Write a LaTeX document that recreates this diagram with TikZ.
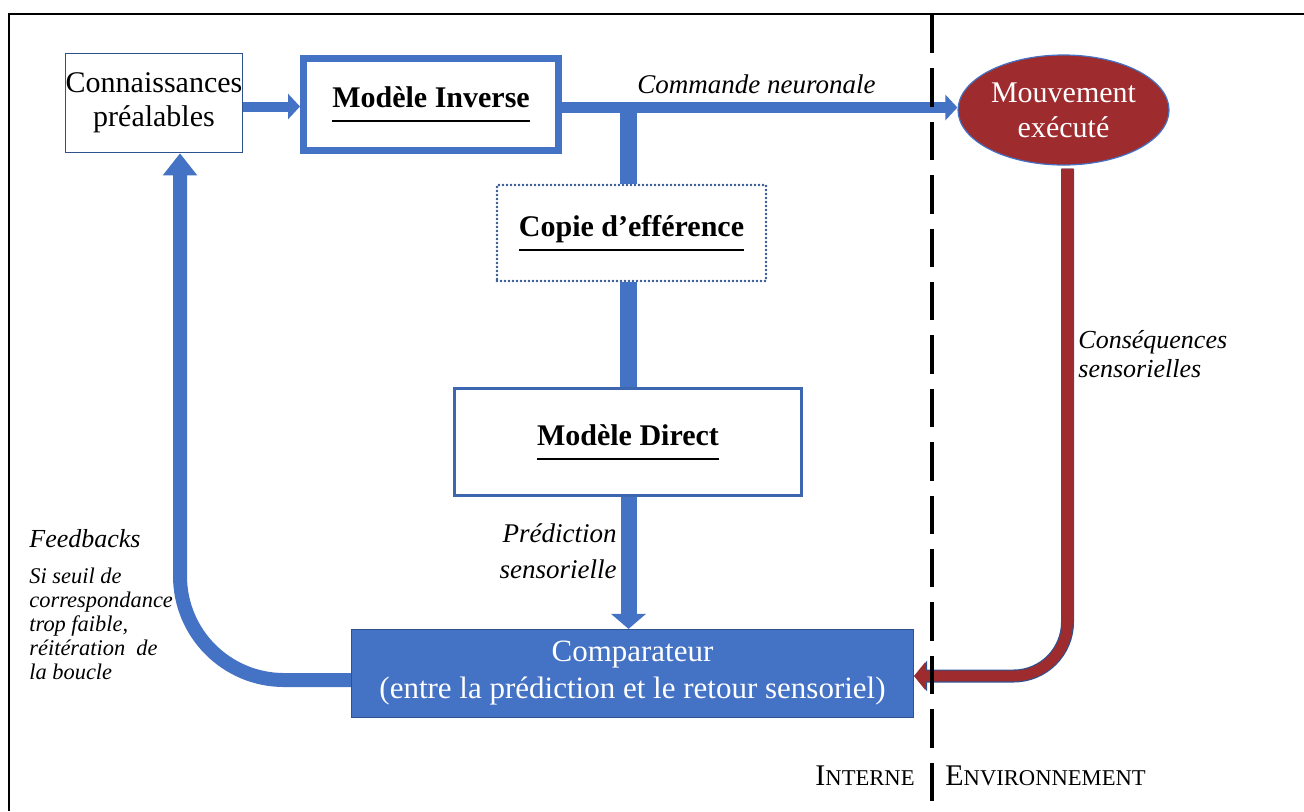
\documentclass[tikz,border=0pt]{standalone}
\usepackage{fontspec}
\setmainfont{Liberation Serif}
\usetikzlibrary{arrows.meta,shapes.geometric}
\definecolor{bF}{HTML}{4472C4}
\definecolor{bD}{HTML}{2F528F}
\definecolor{bM}{HTML}{3C66B0}
\definecolor{rF}{HTML}{9E2B2E}
\newcommand\ulx[1]{{\setbox0\hbox{#1}\dp0=0pt\vtop{\copy0\kern6.2pt\hrule height 0.9pt}}}
\newcommand\lns[2]{\begin{tabular}[t]{@{}#1@{}}#2\end{tabular}}
\newcommand\fsc[2]{{\fontsize{15}{18}\selectfont #1}{\fontsize{11.3}{14}\selectfont #2}}
\begin{document}
\begin{tikzpicture}[x=0.5pt,y=-0.5pt,
  box/.style={rectangle, inner sep=0pt, align=center},
  lbl/.style={inner sep=0pt},
  bluebar/.style={draw=bF, line width=#1},
  frame/.style={line width=1.2pt, black},
  sep/.style={line width=2.3pt, black, dash pattern=on 19.2pt off 7.5pt}]
\useasboundingbox (0,0) rectangle (1304,811);
% frame
\draw[frame] (9,811) -- (9,14) -- (1304,14);
% nodes
\node[box, draw=bD, line width=0.8pt, minimum width=88.5pt, minimum height=49.5pt,
  font=\fontsize{15}{17}\selectfont] (conn) at (154,103) {Connaissances\\préalables};
\node[box, draw=bF, line width=3.5pt, minimum width=127.5pt, minimum height=46pt,
  font=\bfseries\fontsize{15}{18}\selectfont] (inv) at (431,104.5) {\ulx{Modèle Inverse}};
\node[box, draw=bD, line width=1.4pt, dash pattern=on 0pt off 2pt, line cap=round,
  minimum width=134.5pt, minimum height=48pt,
  font=\bfseries\fontsize{15}{18}\selectfont] (copie) at (631.5,233) {\ulx{Copie d’efférence}};
\node[box, draw=bM, line width=1.5pt, minimum width=173.5pt, minimum height=53.5pt,
  font=\bfseries\fontsize{15}{18}\selectfont] (direct) at (628,442) {\ulx{Modèle Direct}};
\node[box, draw=bD, fill=bF, line width=0.6pt, minimum width=281pt, minimum height=44pt,
  text=white, font=\fontsize{15.5}{18.5}\selectfont] (comp) at (632.5,673.5)
  {Comparateur\\(entre la prédiction et le retour sensoriel)};
\node[ellipse, draw=bF, fill=rF, line width=0.6pt, inner sep=0pt, align=center,
  minimum width=105.5pt, minimum height=55pt, text=white,
  font=\fontsize{15}{17.5}\selectfont] (mouv) at (1063.5,110) {Mouvement\\exécuté};
% connectors
\draw[bF, line width=5pt, -{Triangle[width=12.5pt,length=6pt]}]
  ([yshift=-1.75pt]conn.east) -- ([yshift=-1.75pt]conn.east -| inv.west);
\coordinate (c1) at ([yshift=-1.5pt]inv.east);
\draw[bF, line width=5.5pt, -{Triangle[width=12.5pt,length=6pt]}]
  (c1) -- (c1 -| mouv.west);
\coordinate (bx) at (628.5,108);
\draw[bluebar=8.5pt] (bx) -- (bx |- copie.north);
\draw[bluebar=8.5pt] (bx |- copie.south) -- (bx |- direct.north);
\draw[bF, line width=8pt, -{Triangle[width=17pt,length=7.5pt]}]
  (bx |- direct.south) -- (bx |- comp.north);
\draw[bF, line width=7pt, rounded corners=52pt, -{Triangle[width=16.5pt,length=11pt]}]
  ([yshift=-3.25pt]comp.west) -| ([xshift=13pt]conn.south);
\draw[bD, line width=6.5pt, rounded corners=27pt, -{Triangle[width=15pt,length=6.5pt]}]
  ([xshift=2pt,yshift=-1.5pt]mouv.south) |- ([yshift=-1.25pt]comp.east);
\draw[rF, line width=5.3pt, rounded corners=27pt, -{Triangle[width=13.5pt,length=5.5pt]}]
  ([xshift=2pt,yshift=-1.5pt]mouv.south) |- ([yshift=-1.25pt]comp.east);
% labels
\node[lbl, anchor=base west, font=\itshape\fontsize{13.5}{16}\selectfont] (cmd) at (637,93) {Commande neuronale};
\node[lbl, anchor=base east, font=\itshape\fontsize{13.5}{18}\selectfont] (pred) at (617,542)
  {\lns{r}{Prédiction\\sensorielle}};
\node[lbl, anchor=base west, font=\itshape\fontsize{13}{14.5}\selectfont] (csq) at (1078,348)
  {\lns{l}{Conséquences\\sensorielles}};
\node[lbl, anchor=base west, font=\itshape\fontsize{13}{16}\selectfont] (fb) at (29,547) {Feedbacks};
\node[lbl, anchor=base west, font=\itshape\fontsize{11.2}{12.1}\selectfont] (si) at (29,583)
  {\lns{l}{Si seuil de\\correspondance\\trop faible,\\réitération\ \ de\\la boucle}};
\node[lbl, anchor=base east] (int) at (915,785) {\fsc{I}{NTERNE}};
\node[lbl, anchor=base west] (env) at (945,785) {\fsc{E}{NVIRONNEMENT}};
% separator
\draw[sep] (932,15) -- (932,802);
\end{tikzpicture}
\end{document}
